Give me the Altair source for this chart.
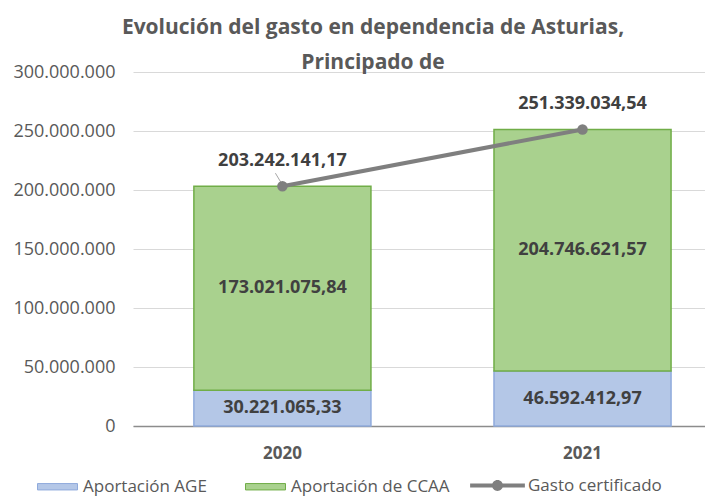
import altair as alt
import pandas as pd

years = ["2020", "2021"]
aportacion_age = [30221065.33, 46592412.97]
aportacion_ccaa = [173021075.84, 204746621.57]
gasto_certificado = [203242141.17, 251339034.54]
series = ["Aportación AGE", "Aportación de CCAA"]
y_ticks = [0, 50000000, 100000000, 150000000, 200000000, 250000000, 300000000]


def es_fmt(v):
    return f"{v:,.2f}".replace(",", "X").replace(".", ",").replace("X", ".")


bars_df = pd.DataFrame(
    {
        "year": years * 2,
        "serie": [series[0]] * 2 + [series[1]] * 2,
        "value": aportacion_age + aportacion_ccaa,
    }
)
bars_df["label"] = [es_fmt(v) for v in bars_df["value"]]

line_df = pd.DataFrame(
    {
        "year": years,
        "value": gasto_certificado,
        "serie": ["Gasto certificado"] * 2,
        "label": [es_fmt(v) for v in gasto_certificado],
    }
)

FONT = "Open Sans"
GREY = "#595959"

x_scale = alt.Scale(paddingInner=0.41, paddingOuter=0.158, align=0.642)
y_scale = alt.Scale(domain=[0, 300000000], nice=False)

x_enc = alt.X(
    "year:N",
    scale=x_scale,
    axis=alt.Axis(
        title=None,
        labelAngle=0,
        labelFont=FONT,
        labelFontSize=17,
        labelFontWeight="bold",
        labelColor=GREY,
        labelPadding=19,
        ticks=False,
        domain=True,
        domainColor="#8c8c8c",
        domainWidth=1.5,
        grid=False,
    ),
)

legend_bar = alt.Legend(
    title=None,
    orient="none",
    direction="horizontal",
    legendX=-96,
    legendY=394,
    symbolType="M-1,-0.16 h2 v0.32 h-2 z",
    symbolSize=1600,
    symbolStrokeWidth=1,
    labelFont=FONT,
    labelFontSize=17,
    labelColor=GREY,
    labelOffset=5,
    columnPadding=36,
)

base = alt.Chart(bars_df).transform_stack(
    stack="value", groupby=["year"], as_=["v0", "v1"], sort=[alt.SortField("serie")]
).transform_calculate(mid="(datum.v0 + datum.v1) / 2")

bars = base.mark_bar(strokeWidth=1.5).encode(
    x=x_enc,
    y=alt.Y(
        "v0:Q",
        scale=y_scale,
        axis=alt.Axis(
            title=None,
            values=y_ticks,
            labelExpr="replace(replace(format(datum.value, ',.0f'), ',', '.'), ',', '.')",
            labelFont=FONT,
            labelFontSize=18,
            labelColor=GREY,
            labelPadding=18,
            ticks=False,
            domain=False,
            gridColor="#d9d9d9",
            gridWidth=1.2,
        ),
    ),
    y2="v1:Q",
    fill=alt.Fill(
        "serie:N",
        scale=alt.Scale(domain=series, range=["#b4c7e7", "#a9d18e"]),
        legend=legend_bar,
    ),
    stroke=alt.Stroke(
        "serie:N",
        scale=alt.Scale(domain=series, range=["#8faadc", "#70ad47"]),
        legend=legend_bar,
    ),
)

seg_text = base.mark_text(
    font=FONT, fontSize=18, fontWeight="bold", color="#404040"
).encode(x="year:N", y="mid:Q", text="label:N")

legend_line = alt.Legend(
    title=None,
    orient="none",
    legendX=337,
    legendY=386,
    symbolType="M-1,-0.07 h2 v0.14 h-2 z M0.2,0 A0.2,0.2 0 1 1 -0.2,0 A0.2,0.2 0 1 1 0.2,0 z",
    symbolSize=3000,
    symbolStrokeWidth=0,
    labelFont=FONT,
    labelFontSize=17,
    labelColor=GREY,
    labelOffset=3,
)

line_color = alt.Color(
    "serie:N",
    scale=alt.Scale(domain=["Gasto certificado"], range=["#7f7f7f"]),
    legend=legend_line,
)

line = alt.Chart(line_df).mark_line(strokeWidth=4).encode(
    x="year:N", y="value:Q", color=line_color
)
points = alt.Chart(line_df).mark_circle(size=110, opacity=1).encode(
    x="year:N", y="value:Q", color=line_color
)
line_text = alt.Chart(line_df).mark_text(
    font=FONT, fontSize=18, fontWeight="bold", color="#404040", dy=-25
).encode(x="year:N", y="value:Q", text="label:N")

leader = alt.Chart(line_df.iloc[[0]]).mark_rule(
    color="#a6a6a6", strokeWidth=1, xOffset=-7, x2Offset=-1, yOffset=-13, y2Offset=-3
).encode(x="year:N", x2="year:N", y="value:Q", y2="value:Q")

chart = (
    alt.layer(bars, seg_text, leader, line, points, line_text)
    .resolve_scale(y="shared")
    .properties(
        width=572,
        height=354,
        padding={"left": 125, "top": 64, "right": 0, "bottom": 71},
        autosize=alt.AutoSizeParams(type="none"),
        title=alt.TitleParams(
            ["Evolución del gasto en dependencia de Asturias,", "Principado de"],
            font=FONT,
            fontSize=21,
            fontWeight="bold",
            color=GREY,
            anchor="middle",
            frame="group",
            dx=-46,
            dy=10,
            lineHeight=35,
            offset=0,
        ),
    )
    .configure_view(stroke=None)
)

chart.save("out.html", embed_options={"renderer": "svg", "actions": False})
